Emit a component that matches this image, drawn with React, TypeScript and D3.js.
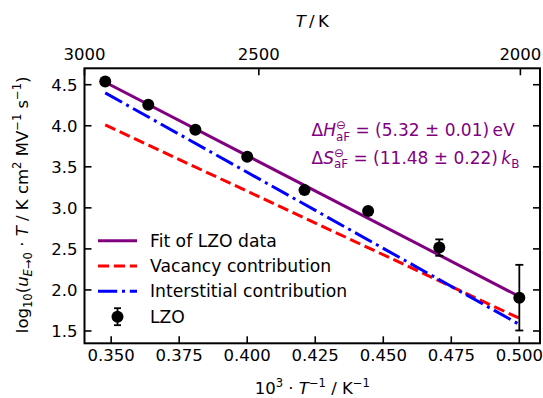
import React from 'react';
import * as d3 from 'd3';

// ---- data ----
const temperaturesK = [2875, 2750, 2625, 2500, 2375, 2250, 2125, 2000];
const lzoLogMobility = [4.54, 4.256, 3.951, 3.622, 3.216, 2.963, 2.516, 1.906];
const lzoError = [0.02, 0.02, 0.02, 0.02, 0.02, 0.02, 0.1, 0.4];
const lineTemperaturesK = [2875, 2000];
const fitValues = [4.53, 1.92];
const vacancyValues = [4.01, 1.655];
const interstitialValues = [4.4, 1.58];
const bottomTicks = [0.35, 0.375, 0.4, 0.425, 0.45, 0.475, 0.5];
const topTicksK = [3000, 2500, 2000];
const yTicks = [1.5, 2.0, 2.5, 3.0, 3.5, 4.0, 4.5];
const xDomain = [0.3402, 0.5076];
const topDomain = [1000 / 3000, 0.5075];
const yDomain = [1.35, 4.7];
const legendLabels = ['Fit of LZO data', 'Vacancy contribution', 'Interstitial contribution', 'LZO'];

const W = 543;
const H = 398;
const M = { left: 84.5, top: 68.3, right: 3, bottom: 54.7 };
const FONT = 'DejaVu Sans, sans-serif';
const FS = 16.5;
const LFS = 17.2;
const AFS = 17;
const PURPLE = '#800080';

type Seg = { t: string; i?: boolean; s?: 'sub' | 'sup'; dx?: number };

function rich(segs: Seg[], fs: number) {
  let cur = 0;
  return segs.map((seg, k) => {
    const target = seg.s === 'sub' ? fs * 0.24 : seg.s === 'sup' ? -fs * 0.42 : 0;
    const dy = target - cur;
    cur = target;
    return (
      <tspan
        key={k}
        dy={dy || undefined}
        dx={seg.dx}
        fontStyle={seg.i ? 'italic' : 'normal'}
        fontSize={seg.s ? fs * 0.7 : fs}
      >
        {seg.t}
      </tspan>
    );
  });
}

export default function App() {
  const iw = W - M.left - M.right;
  const ih = H - M.top - M.bottom;
  const x = d3.scaleLinear().domain(xDomain).range([0, iw]);
  const xTop = d3.scaleLinear().domain(topDomain).range([0, iw]);
  const y = d3.scaleLinear().domain(yDomain).range([ih, 0]);

  const inv = (T: number) => 1000 / T;
  const line = d3
    .line<[number, number]>()
    .x((d) => x(d[0]))
    .y((d) => y(d[1]));
  const mk = (vals: number[]) =>
    line(lineTemperaturesK.map((T, k) => [inv(T), vals[k]] as [number, number])) || '';

  const tickLen = 7;
  const stacked = 0.7 * AFS * 1.188; // width of "aF" subscript
  const thetaW = 0.7 * AFS * 0.838;

  const legendY = [240.7, 266, 291.3, 316.7].map((v) => v - M.top);
  const legX0 = 98 - M.left;
  const legX1 = 137 - M.left;
  const legText = 150 - M.left;

  return (
    <svg
      width={W}
      height={H}
      style={{ position: 'absolute', left: 0, top: 0, background: '#fff' }}
      fontFamily={FONT}
    >
      <rect width={W} height={H} fill="#fff" />
      <defs>
        <clipPath id="plotclip">
          <rect x={0} y={0} width={iw} height={ih} />
        </clipPath>
      </defs>
      <g transform={`translate(${M.left},${M.top})`}>
        {/* lines */}
        <g clipPath="url(#plotclip)" fill="none" strokeWidth={3}>
          <path d={mk(fitValues)} stroke={PURPLE} />
          <path d={mk(vacancyValues)} stroke="#ff0000" strokeDasharray="11.1,4.8" />
          <path d={mk(interstitialValues)} stroke="#0000ff" strokeDasharray="19.2,4.8,3,4.8" />
        </g>
        {/* points with error bars */}
        <g>
          {temperaturesK.map((T, k) => {
            const cx = x(inv(T));
            const v = lzoLogMobility[k];
            const e = lzoError[k];
            return (
              <g key={k}>
                <line x1={cx} x2={cx} y1={y(v - e)} y2={y(v + e)} stroke="#000" strokeWidth={1.8} />
                <line x1={cx - 4} x2={cx + 4} y1={y(v - e)} y2={y(v - e)} stroke="#000" strokeWidth={1.8} />
                <line x1={cx - 4} x2={cx + 4} y1={y(v + e)} y2={y(v + e)} stroke="#000" strokeWidth={1.8} />
                <circle cx={cx} cy={y(v)} r={6} fill="#000" />
              </g>
            );
          })}
        </g>

        {/* annotation */}
        <text x={311.5 - M.left} y={136.5 - M.top} fill={PURPLE} fontSize={AFS} style={{ whiteSpace: 'pre' }}>
          {rich(
            [
              { t: 'Δ' },
              { t: 'H', i: true },
              { t: 'aF', s: 'sub' },
              { t: '⊖', s: 'sup', dx: -stacked },
              { t: ' = (5.32 ± 0.01)\u2009eV', dx: stacked - thetaW },
            ],
            AFS
          )}
        </text>
        <text x={311.5 - M.left} y={164.3 - M.top} fill={PURPLE} fontSize={AFS} style={{ whiteSpace: 'pre' }}>
          {rich(
            [
              { t: 'Δ' },
              { t: 'S', i: true },
              { t: 'aF', s: 'sub' },
              { t: '⊖', s: 'sup', dx: -stacked },
              { t: ' = (11.48 ± 0.22)\u2009', dx: stacked - thetaW },
              { t: 'k', i: true },
              { t: 'B', s: 'sub' },
            ],
            AFS
          )}
        </text>

        {/* legend */}
        <g fontSize={LFS}>
          <line x1={legX0} x2={legX1} y1={legendY[0]} y2={legendY[0]} stroke={PURPLE} strokeWidth={3} />
          <line x1={legX0} x2={legX1} y1={legendY[1]} y2={legendY[1]} stroke="#ff0000" strokeWidth={3} strokeDasharray="11.1,4.8" />
          <line x1={legX0} x2={legX1} y1={legendY[2]} y2={legendY[2]} stroke="#0000ff" strokeWidth={3} strokeDasharray="19.2,4.8,3,4.8" />
          {(() => {
            const cx = (legX0 + legX1) / 2;
            const cy = legendY[3];
            return (
              <g>
                <line x1={cx} x2={cx} y1={cy - 8.5} y2={cy + 8.5} stroke="#000" strokeWidth={1.8} />
                <line x1={cx - 3.5} x2={cx + 3.5} y1={cy - 8.5} y2={cy - 8.5} stroke="#000" strokeWidth={1.8} />
                <line x1={cx - 3.5} x2={cx + 3.5} y1={cy + 8.5} y2={cy + 8.5} stroke="#000" strokeWidth={1.8} />
                <circle cx={cx} cy={cy} r={6} fill="#000" />
              </g>
            );
          })()}
          {legendLabels.map((l, k) => (
            <text key={k} x={legText} y={legendY[k]} dy="0.36em" fill="#000">
              {l}
            </text>
          ))}
        </g>

        {/* ticks */}
        <g stroke="#000" strokeWidth={1.6}>
          {bottomTicks.map((t) => (
            <line key={'b' + t} x1={x(t)} x2={x(t)} y1={ih} y2={ih - tickLen} />
          ))}
          {topTicksK.map((T) => (
            <line key={'t' + T} x1={xTop(inv(T))} x2={xTop(inv(T))} y1={0} y2={tickLen} />
          ))}
          {yTicks.map((t) => (
            <g key={'y' + t}>
              <line x1={0} x2={tickLen} y1={y(t)} y2={y(t)} />
              <line x1={iw} x2={iw - tickLen} y1={y(t)} y2={y(t)} />
            </g>
          ))}
        </g>
        {/* frame */}
        <rect x={0} y={0} width={iw} height={ih} fill="none" stroke="#000" strokeWidth={2} />

        {/* tick labels */}
        <g fontSize={FS} fill="#000">
          {bottomTicks.map((t) => (
            <text key={'bl' + t} x={x(t)} y={361.5 - M.top} textAnchor="middle">
              {d3.format('.3f')(t)}
            </text>
          ))}
          {topTicksK.map((T) => (
            <text key={'tl' + T} x={xTop(inv(T))} y={60 - M.top} textAnchor="middle">
              {T}
            </text>
          ))}
          {yTicks.map((t) => (
            <text key={'yl' + t} x={-7} y={y(t)} dy="0.36em" textAnchor="end">
              {d3.format('.1f')(t)}
            </text>
          ))}
        </g>
      </g>

      {/* axis titles */}
      <text x={M.left + iw / 2} y={27} textAnchor="middle" fontSize={FS} style={{ whiteSpace: 'pre' }}>
        {rich([{ t: 'T', i: true }, { t: '\u2009/\u2009K' }], FS)}
      </text>
      <text x={M.left + iw / 2} y={393.5} textAnchor="middle" fontSize={FS} style={{ whiteSpace: 'pre' }}>
        {rich(
          [
            { t: '10' },
            { t: '3', s: 'sup' },
            { t: ' · ' },
            { t: 'T', i: true },
            { t: '−1', s: 'sup' },
            { t: ' / K' },
            { t: '−1', s: 'sup' },
          ],
          FS
        )}
      </text>
      <text
        transform={`translate(28,${M.top + ih / 2 - 1}) rotate(-90)`}
        textAnchor="middle"
        fontSize={FS}
        style={{ whiteSpace: 'pre' }}
      >
        {rich(
          [
            { t: 'log' },
            { t: '10', s: 'sub' },
            { t: '(' },
            { t: 'u', i: true },
            { t: 'E', i: true, s: 'sub' },
            { t: '→0', s: 'sub' },
            { t: ' · ' },
            { t: 'T', i: true },
            { t: ' / K cm' },
            { t: '2', s: 'sup' },
            { t: ' MV' },
            { t: '−1', s: 'sup' },
            { t: ' s' },
            { t: '−1', s: 'sup' },
            { t: ')' },
          ],
          FS
        )}
      </text>
    </svg>
  );
}
